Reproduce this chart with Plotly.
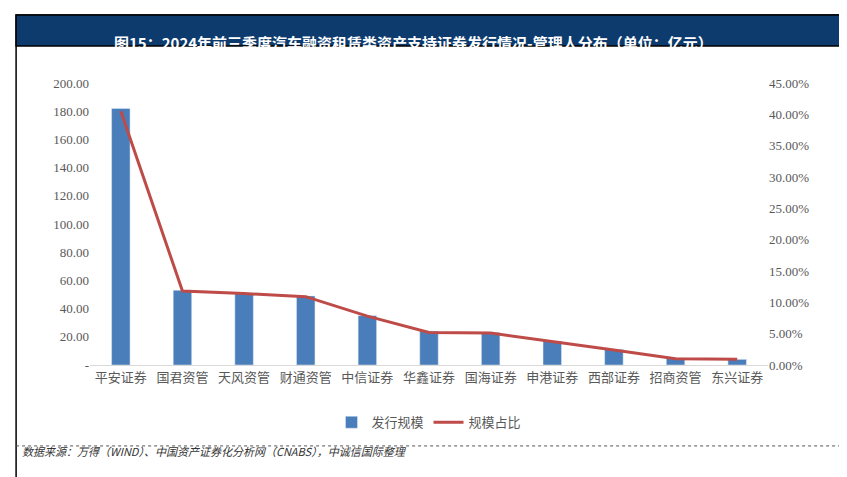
import plotly.graph_objects as go

managers = ["平安证券", "国君资管", "天风资管", "财通资管", "中信证券", "华鑫证券",
            "国海证券", "申港证券", "西部证券", "招商资管", "东兴证券"]
scale = [182, 53, 51, 49, 35, 24, 23, 17, 11, 5, 4]
share = [40.5, 11.8, 11.4, 10.9, 7.8, 5.2, 5.1, 3.8, 2.4, 1.0, 0.9]

left_vals = list(range(0, 201, 20))
left_text = ["-"] + ["%.2f" % v for v in left_vals[1:]]
right_vals = [v * 5 for v in range(10)]
right_text = ["%.2f%%" % v for v in right_vals]

fig = go.Figure()
fig.add_trace(go.Bar(x=managers, y=scale, name="发行规模", marker_color="#4a7ebb", width=0.3))
fig.add_trace(go.Scatter(x=managers, y=share, name="规模占比", yaxis="y2", mode="lines",
                         line=dict(color="#be4b48", width=3)))

fig.update_layout(
    width=847, height=477, plot_bgcolor="white", paper_bgcolor="white",
    margin=dict(l=82, r=87, t=75, b=120),
    font=dict(family="Noto Sans CJK SC", size=12, color="#595959"),
    xaxis=dict(showline=True, linecolor="#d9d9d9", tickfont=dict(size=13)),
    yaxis=dict(range=[0, 200], tickvals=left_vals, ticktext=left_text, showgrid=False,
               tickfont=dict(family="Liberation Serif", size=13)),
    yaxis2=dict(range=[0, 45], overlaying="y", side="right", tickvals=right_vals,
                ticktext=right_text, showgrid=False,
                tickfont=dict(family="Liberation Serif", size=13)),
    legend=dict(orientation="h", x=0.5, xanchor="center", y=-0.15, yanchor="top",
                font=dict(size=13)),
    bargap=0.5,
)
fig.add_shape(type="rect", xref="paper", yref="paper", x0=-0.109, x1=1.118, y0=-0.401, y1=1.241,
              line=dict(color="black", width=1.5))
fig.add_shape(type="rect", xref="paper", yref="paper", x0=-0.109, x1=1.118, y0=1.131, y1=1.241,
              line=dict(color="black", width=1.5), fillcolor="#0d3b6e")
fig.add_shape(type="line", xref="paper", yref="paper", x0=-0.109, x1=1.118, y0=-0.287, y1=-0.287,
              line=dict(color="#555", width=1, dash="dot"))
fig.add_annotation(text="<b>图15：2024年前三季度汽车融资租赁类资产支持证券发行情况-管理人分布（单位：亿元）</b>",
                   xref="paper", yref="paper", x=0.477, y=1.188, showarrow=False,
                   font=dict(family="Noto Sans CJK SC", size=15, color="white"))
fig.add_annotation(text="<i>数据来源：万得（WIND）、中国资产证券化分析网（CNABS），中诚信国际整理</i>",
                   xref="paper", yref="paper", x=-0.103, xanchor="left", y=-0.34, showarrow=False,
                   font=dict(family="Noto Sans CJK SC", size=11, color="#333"))

fig.write_html("out.html")
